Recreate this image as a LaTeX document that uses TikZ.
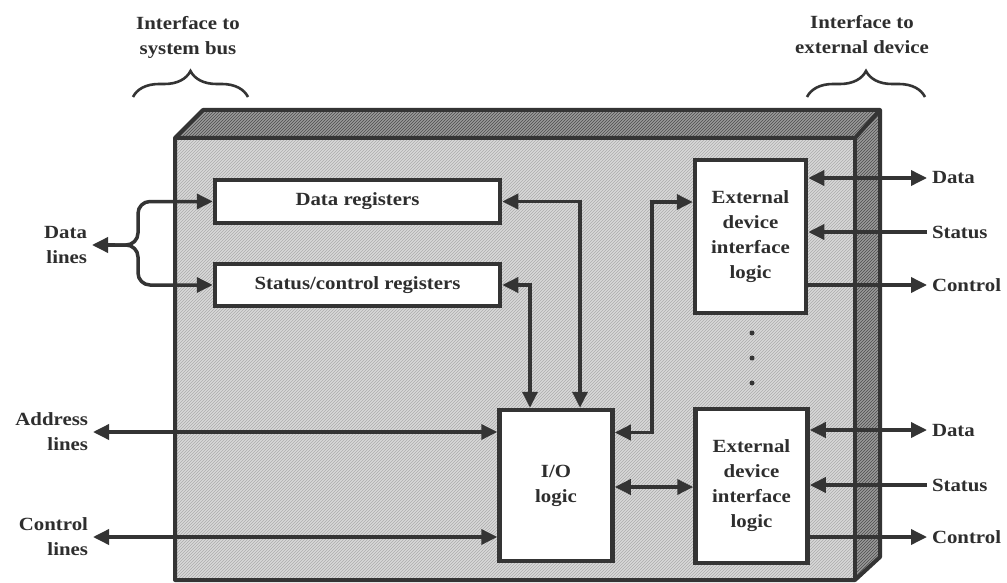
\documentclass[tikz,border=0pt]{standalone}
\usepackage{fontspec}
\setmainfont{Liberation Serif}
\newfontfamily\lblfont[FakeStretch=1.12]{Liberation Serif}
\usetikzlibrary{arrows.meta,patterns,decorations.pathreplacing}
\definecolor{ink}{HTML}{343434}
\definecolor{txt}{HTML}{2E2E2E}
\definecolor{frontc}{HTML}{D8D8D8}
\definecolor{topc}{HTML}{9A9A9A}
\begin{document}
\begin{tikzpicture}[x=1pt,y=-1pt,
  >={Triangle[length=16pt,width=15pt]},
  lbl/.style={font=\lblfont\bfseries\fontsize{18.6}{25}\selectfont, text=txt, align=center, inner sep=0pt},
  side/.style={lbl, outer sep=5pt},
  blk/.style={draw=ink, line width=4.5pt, fill=white, inner sep=0pt, lbl},
  conn/.style={draw=ink, line width=3.5pt},
  brc/.style={draw=ink, line width=2.6pt, decorate, decoration={brace, amplitude=26pt}},
  dot/.style={circle, fill=ink, inner sep=0pt, minimum size=5pt}
]
\useasboundingbox (0,0) rectangle (1007,583);
\fill[white] (0,0) rectangle (1007,583);

% main housing: front, top and side faces
\fill[frontc] (175,138) rectangle (855,580);
\fill[pattern=north east lines, pattern color=gray!65] (175,138) rectangle (855,580);
\fill[topc] (175,138) -- (203,110) -- (880,110) -- (855,138) -- cycle;
\fill[pattern=north east lines, pattern color=black!70] (175,138) -- (203,110) -- (880,110) -- (855,138) -- cycle;
\fill[topc] (855,138) -- (880,110) -- (880,557) -- (855,580) -- cycle;
\fill[pattern=north east lines, pattern color=black!70] (855,138) -- (880,110) -- (880,557) -- (855,580) -- cycle;
\draw[ink, line width=4pt, line join=round] (175,580) -- (175,138) -- (203,110) -- (880,110) -- (880,557) -- (855,580) -- cycle;
\draw[ink, line width=4pt, line join=round] (175,138) -- (855,138) -- (880,110);
\draw[ink, line width=4pt] (855,138) -- (855,580);

% braces and top labels
\node[lbl] (sysbus) at (188,37.5) {Interface to\\system bus};
\node[lbl] (extdev) at (862,35) {Interface to\\external device};
\draw[brc] (133,97) -- (248,97);
\draw[brc] (807,97) -- (925,97);

% blocks
\node[blk, minimum width=285pt, minimum height=43pt] (datareg) at (357.5,201.5) {Data registers};
\node[blk, minimum width=285pt, minimum height=42pt] (statreg) at (357.5,285) {Status/control registers};
\node[blk, minimum width=113pt, minimum height=151pt] (iologic) at (556,485.5) {I/O\\logic};
\node[blk, minimum width=111pt, minimum height=153pt] (ext1) at (750.5,236.5) {External\\device\\interface\\logic};
\node[blk, minimum width=112pt, minimum height=154pt] (ext2) at (751.5,486) {External\\device\\interface\\logic};

\node[dot] (dA) at (752,333) {};
\node[dot] (dB) at (752,358) {};
\node[dot] (dC) at (752,383) {};

% left labels
\node[side, align=right, anchor=east] (datalbl) at (92,245) {Data\\lines};
\node[side, align=right, anchor=east] (addrlbl) at (93,432) {Address\\lines};
\node[side, align=right, anchor=east] (ctrllbl) at (93,537) {Control\\lines};

% data lines branching
\coordinate (dj) at (115,245);
\draw[conn,->] (dj) -- (datalbl.east);
\draw[conn,->,rounded corners=12pt] (dj) -- (138,245) |- (datareg.west);
\draw[conn,->,rounded corners=12pt] (dj) -- (138,245) |- (statreg.west);

% registers to I/O logic
\draw[conn,<->] (datareg.east) -| ([xshift=24pt]iologic.north);
\draw[conn,<->] (statreg.east) -| ([xshift=-26pt]iologic.north);

% address and control lines
\draw[conn,<->] (addrlbl.east |- 0,432) -- (iologic.west |- 0,432);
\draw[conn,<->] (ctrllbl.east |- 0,537) -- (iologic.west |- 0,537);

% I/O logic to external device logic
\draw[conn,<->] ([yshift=53pt]iologic.east) -- ++(37,0) |- ([yshift=34.5pt]ext1.west);
\draw[conn,<->] (iologic.east |- 0,487) -- (ext2.west |- 0,487);

% right labels
\node[side, anchor=west] (data1) at (927,178) {Data};
\node[side, anchor=west] (stat1) at (927,232) {Status};
\node[side, anchor=west] (ctl1) at (927,285) {Control};
\node[side, anchor=west] (data2) at (927,430) {Data};
\node[side, anchor=west] (stat2) at (927,485) {Status};
\node[side, anchor=west] (ctl2) at (927,537) {Control};

\draw[conn,<->] (data1.west -| ext1.east) -- (data1.west);
\draw[conn,->] (stat1.west) -- (stat1.west -| ext1.east);
\draw[conn,->] (ctl1.west -| ext1.east) -- (ctl1.west);
\draw[conn,<->] (data2.west -| ext2.east) -- (data2.west);
\draw[conn,->] (stat2.west) -- (stat2.west -| ext2.east);
\draw[conn,->] (ctl2.west -| ext2.east) -- (ctl2.west);
\end{tikzpicture}
\end{document}
